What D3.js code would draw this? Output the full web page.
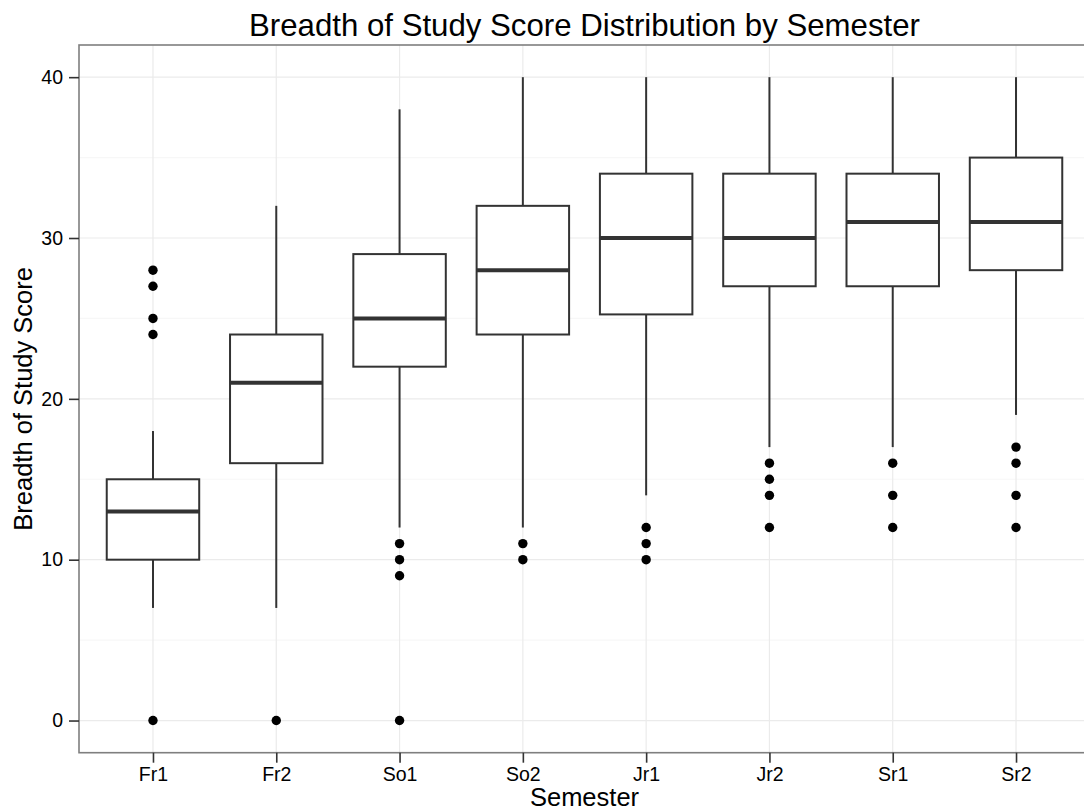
<!DOCTYPE html>
<html>
<head>
<meta charset="utf-8">
<script src="https://cdn.jsdelivr.net/npm/d3@7"></script>
<style>
    body{ margin:0; background:#fff; }
    svg{ display:block; font-family:"Liberation Sans", Arial, Helvetica, sans-serif; }
</style>
</head>
<body>
<div id="chart"></div>
<script>
// Box plot data, one entry per semester
const semesters = ['Fr1','Fr2','So1','So2','Jr1','Jr2','Sr1','Sr2'];
const whiskerLow = [7, 7, 12, 12, 14, 17, 17, 19];
const q1 = [10, 16, 22, 24, 25.25, 27, 27, 28];
const median = [13, 21, 25, 28, 30, 30, 31, 31];
const q3 = [15, 24, 29, 32, 34, 34, 34, 35];
const whiskerHigh = [18, 32, 38, 40, 40, 40, 40, 40];
const outliers = [
    [0, 24, 25, 27, 28],
    [0],
    [0, 9, 10, 11],
    [10, 11],
    [10, 11, 12],
    [12, 14, 15, 16],
    [12, 14, 16],
    [12, 14, 16, 17]
];
const yTicks = [0, 10, 20, 30, 40];
const yMinor = [5, 15, 25, 35];

const width = 1084, height = 811;
// panel box (right side runs past the picture edge, as in the original)
const pLeft = 79, pTop = 45, pRight = 1090, pBottom = 752.7;

const svg = d3.select('#chart').append('svg')
    .attr('width', width).attr('height', height);

const x = d3.scalePoint().domain(semesters).range([pLeft, pRight]).padding(0.6);
const y = d3.scaleLinear().domain([-2, 42]).range([pBottom, pTop]);
const boxW = x.step() * 0.75;

// grid
const grid = svg.append('g');
grid.selectAll('line.minor').data(yMinor).join('line')
    .attr('x1', pLeft).attr('x2', pRight)
    .attr('y1', d=>y(d)).attr('y2', d=>y(d))
    .attr('stroke', '#f7f7f7').attr('stroke-width', 1.2);
grid.selectAll('line.majory').data(yTicks).join('line')
    .attr('x1', pLeft).attr('x2', pRight)
    .attr('y1', d=>y(d)).attr('y2', d=>y(d))
    .attr('stroke', '#ebebeb').attr('stroke-width', 1.2);
grid.selectAll('line.majorx').data(semesters).join('line')
    .attr('x1', d=>x(d)).attr('x2', d=>x(d))
    .attr('y1', pTop).attr('y2', pBottom)
    .attr('stroke', '#ebebeb').attr('stroke-width', 1.2);

// boxes
const data = semesters.map((s,i)=>({s, lo:whiskerLow[i], q1:q1[i], med:median[i], q3:q3[i], hi:whiskerHigh[i], out:outliers[i]}));
const boxes = svg.append('g').selectAll('g').data(data).join('g');
const ink = '#333333';

boxes.append('line')
    .attr('x1', d=>x(d.s)).attr('x2', d=>x(d.s))
    .attr('y1', d=>y(d.q3)).attr('y2', d=>y(d.hi))
    .attr('stroke', ink).attr('stroke-width', 2);
boxes.append('line')
    .attr('x1', d=>x(d.s)).attr('x2', d=>x(d.s))
    .attr('y1', d=>y(d.q1)).attr('y2', d=>y(d.lo))
    .attr('stroke', ink).attr('stroke-width', 2);
boxes.append('rect')
    .attr('x', d=>x(d.s)-boxW/2).attr('width', boxW)
    .attr('y', d=>y(d.q3)).attr('height', d=>y(d.q1)-y(d.q3))
    .attr('fill', '#fff').attr('stroke', ink).attr('stroke-width', 2);
boxes.append('line')
    .attr('x1', d=>x(d.s)-boxW/2).attr('x2', d=>x(d.s)+boxW/2)
    .attr('y1', d=>y(d.med)).attr('y2', d=>y(d.med))
    .attr('stroke', ink).attr('stroke-width', 4);
boxes.selectAll('circle').data(d=>d.out.map(v=>({s:d.s, v}))).join('circle')
    .attr('cx', d=>x(d.s)).attr('cy', d=>y(d.v)).attr('r', 4.7)
    .attr('fill', '#000');

// panel border
svg.append('rect')
    .attr('x', pLeft).attr('y', pTop)
    .attr('width', pRight-pLeft).attr('height', pBottom-pTop)
    .attr('fill', 'none').attr('stroke', '#7f7f7f').attr('stroke-width', 1.6);

// axes
const yAxis = svg.append('g').attr('transform', `translate(${pLeft},0)`)
    .call(d3.axisLeft(y).tickValues(yTicks).tickSize(10).tickPadding(6));
const xAxis = svg.append('g').attr('transform', `translate(0,${pBottom})`)
    .call(d3.axisBottom(x).tickSize(10).tickPadding(4));
[yAxis, xAxis].forEach(a=>{
    a.select('.domain').remove();
    a.selectAll('.tick line').attr('stroke', '#333').attr('stroke-width', 1.6);
    a.selectAll('.tick text')
        .attr('font-family', '"Liberation Sans", Arial, sans-serif')
        .attr('font-size', 19.5).attr('fill', '#000');
});
xAxis.selectAll('.tick text').attr('dy', '0.71em');

// titles
const cx = (pLeft+pRight)/2;
svg.append('text')
    .attr('x', cx).attr('y', 36)
    .attr('text-anchor', 'middle').attr('font-size', 31.2)
    .text('Breadth of Study Score Distribution by Semester');
svg.append('text')
    .attr('x', cx).attr('y', 806)
    .attr('text-anchor', 'middle').attr('font-size', 25.5)
    .text('Semester');
svg.append('text')
    .attr('transform', `translate(32,${(pTop+pBottom)/2}) rotate(-90)`)
    .attr('text-anchor', 'middle').attr('font-size', 25.5)
    .text('Breadth of Study Score');
</script>
</body>
</html>
